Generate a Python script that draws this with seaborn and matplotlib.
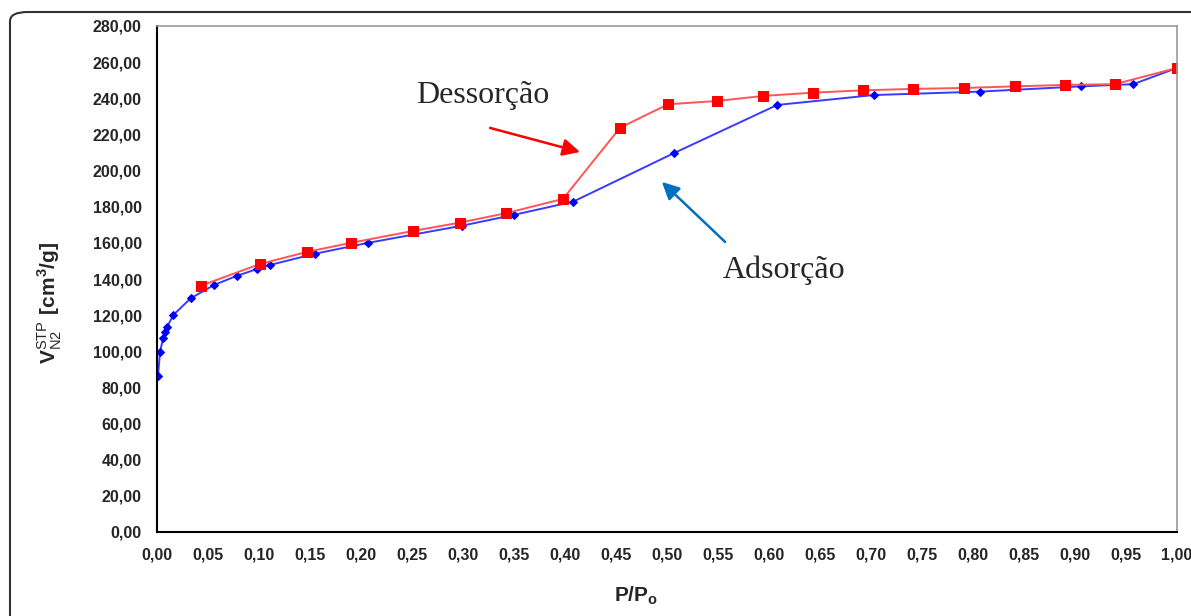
import numpy as np
import pandas as pd
import matplotlib
matplotlib.use("Agg")
import matplotlib.pyplot as plt
from matplotlib.patches import FancyBboxPatch
import seaborn as sns

# Adsorcao (azul)
ads_x = [0.001, 0.003, 0.006, 0.008, 0.010, 0.016, 0.033, 0.056, 0.078, 0.098, 0.111,
         0.155, 0.207, 0.299, 0.350, 0.408, 0.507, 0.608, 0.703, 0.807, 0.906, 0.957, 1.000]
ads_y = [86.5, 99.8, 107.2, 110.5, 113.6, 120.1, 129.3, 136.7, 141.7, 145.5, 147.8,
         154.0, 160.0, 169.5, 175.5, 182.8, 209.7, 236.3, 241.8, 243.7, 246.6, 247.8, 256.8]

# Dessorcao (vermelho)
des_x = [0.043, 0.101, 0.147, 0.190, 0.251, 0.297, 0.342, 0.398, 0.454, 0.501, 0.549,
         0.594, 0.643, 0.692, 0.741, 0.791, 0.841, 0.890, 0.939, 1.000]
des_y = [136.3, 148.3, 155.0, 160.0, 166.6, 171.2, 176.4, 184.3, 223.7, 236.7, 238.5,
         241.3, 243.1, 244.4, 245.2, 245.7, 246.6, 247.4, 247.8, 256.8]

y_ticks = list(range(0, 281, 20))
x_ticks = [i * 0.05 for i in range(21)]

sns.set_style("white")
plt.rcParams['font.family'] = ['Liberation Sans', 'DejaVu Sans']
plt.rcParams['mathtext.fontset'] = 'custom'
plt.rcParams['mathtext.rm'] = 'Liberation Sans'
plt.rcParams['mathtext.bf'] = 'Liberation Sans:bold'

fig = plt.figure(figsize=(11.91, 6.16), dpi=100)
ax = fig.add_axes([157 / 1191, 84 / 616, 1020 / 1191, 506 / 616])

df_ads = pd.DataFrame({'x': ads_x, 'y': ads_y})
df_des = pd.DataFrame({'x': des_x, 'y': des_y})

sns.lineplot(data=df_ads, x='x', y='y', ax=ax, color='#3a3aff', lw=1.4,
             marker='D', markersize=4.2, markerfacecolor='#0000ff',
             markeredgecolor='#0000ff', estimator=None, sort=False)
sns.lineplot(data=df_des, x='x', y='y', ax=ax, color='#ff5555', lw=1.4,
             marker='s', markersize=6.5, markerfacecolor='#ff0000',
             markeredgecolor='#ff0000', estimator=None, sort=False)

ax.set_xlim(0, 1.0)
ax.set_ylim(0, 280)
ax.set_xticks(x_ticks)
ax.set_yticks(y_ticks)
ax.set_xticklabels([f"{v:.2f}".replace('.', ',') for v in x_ticks],
                   fontsize=11.5, fontweight='bold')
ax.set_yticklabels([f"{v:.2f}".replace('.', ',') for v in y_ticks],
                   fontsize=11.5, fontweight='bold')
ax.tick_params(direction='out', length=5, width=1.2, color='black', pad=6)
ax.set_xlabel('')
ax.set_ylabel('')

for s in ['left', 'bottom']:
    ax.spines[s].set_color('black')
    ax.spines[s].set_linewidth(1.5)
for s in ['top', 'right']:
    ax.spines[s].set_color('#999999')
    ax.spines[s].set_linewidth(1.2)

# anotacoes
ax.text(0.3196, 241.8, 'Dessorção', fontsize=23, family=['Liberation Serif'],
        ha='center', va='center')
ax.annotate('', xy=(0.4147, 210.3), xytext=(0.3265, 223.6),
            arrowprops=dict(arrowstyle='-|>', color='#ff0000', lw=1.8,
                            mutation_scale=26, shrinkA=0, shrinkB=0))
ax.text(0.615, 145.0, 'Adsorção', fontsize=23, family=['Liberation Serif'],
        ha='center', va='center')
ax.annotate('', xy=(0.495, 193.7), xytext=(0.557, 160.5),
            arrowprops=dict(arrowstyle='-|>', color='#0070c0', lw=1.8,
                            mutation_scale=26, shrinkA=0, shrinkB=0))

fig.text(50 / 1191, 1 - 303 / 616,
         r'$\mathbf{V}^{\mathrm{STP}}_{\mathrm{N2}}\ \mathbf{[cm}^{\mathbf{3}}\mathbf{/g]}$',
         rotation=90, ha='center', va='center', fontsize=15)
fig.text(636 / 1191, 1 - 596 / 616, r'$\mathbf{P/P}_{\mathbf{o}}$',
         ha='center', va='center', fontsize=15)

# moldura externa arredondada
frame = FancyBboxPatch((10 / 1191, -0.2), 1.2, 1 - 12 / 616 + 0.2,
                       boxstyle="round,pad=0,rounding_size=0.015",
                       transform=fig.transFigure, fill=False,
                       edgecolor='#333333', lw=1.5, clip_on=False)
fig.patches.append(frame)

fig.savefig('out.png', dpi=100)
